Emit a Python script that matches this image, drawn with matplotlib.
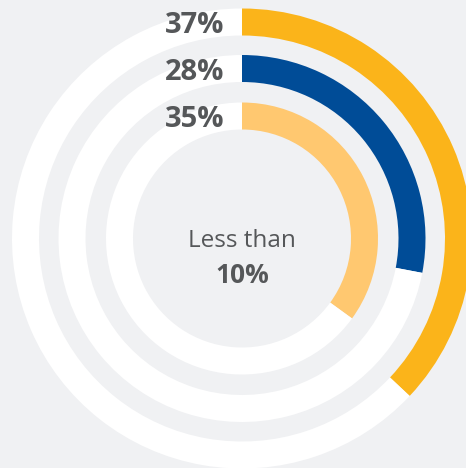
import matplotlib
matplotlib.use("Agg")
import matplotlib.pyplot as plt

# Ring shares (percent), outermost ring first
labels = ["37%", "28%", "35%"]
shares = [37, 28, 35]
colors = ["#FBB41A", "#004C97", "#FFC870"]
center_lines = ["Less than", "10%"]

W, H = 466, 468
bg = "#F0F1F3"
text_color = "#555759"

fig = plt.figure(figsize=(W / 100, H / 100), dpi=100, facecolor=bg)
ax = fig.add_axes([0, 0, 1, 1])
ax.set_facecolor(bg)

cx, cy = 242, H - 238.5
outer_radii = [230, 183.5, 136]
ring_width = 27

for share, color, r in zip(shares, colors, outer_radii):
    ax.pie([share, 100 - share], radius=r, center=(cx, cy), startangle=90,
           counterclock=False, colors=[color, "white"],
           wedgeprops=dict(width=ring_width, linewidth=0))

for label, r in zip(labels, outer_radii):
    mid = r - ring_width / 2
    ax.text(224, cy + mid - 11, label, ha="right", va="baseline",
            fontsize=21, fontweight="bold", family="Open Sans", color=text_color)

ax.text(cx, H - 247, center_lines[0], ha="center", va="baseline",
        fontsize=17.5, fontweight="normal", family="Open Sans", color=text_color)
ax.text(cx, H - 283, center_lines[1], ha="center", va="baseline",
        fontsize=19, fontweight="bold", family="Open Sans", color=text_color)

ax.set_xlim(0, W)
ax.set_ylim(0, H)
ax.set_aspect("equal")
ax.axis("off")

fig.savefig("out.png", dpi=100, facecolor=bg)
